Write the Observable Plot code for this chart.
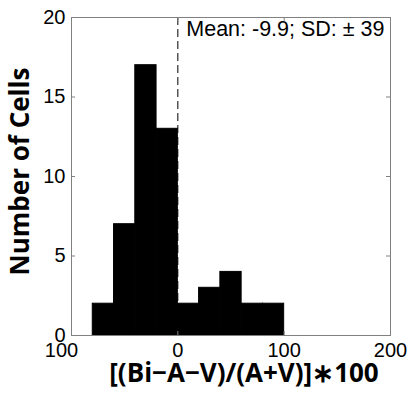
<!DOCTYPE html>
<html>
<head>
<meta charset="utf-8">
<script src="https://cdn.jsdelivr.net/npm/d3@7"></script>
<script src="https://cdn.jsdelivr.net/npm/@observablehq/plot@0.6"></script>
<style>
  html, body { margin: 0; padding: 0; background: #fff; }
  #chart svg { display: block; }
</style>
</head>
<body>
<div id="chart"></div>
<script>
// Histogram bins (left edges, right edges) and counts
const binStart = [-80, -60, -40, -20, 0, 20, 40, 60, 80];
const binEnd   = [-60, -40, -20, 0, 20, 40, 60, 80, 100];
const counts   = [2, 7, 17, 13, 2, 3, 4, 2, 2];

const xTicks = [-100, 0, 100, 200];
const xTickLabels = ["100", "0", "100", "200"];
const yTicks = [0, 5, 10, 15, 20];
const meanLine = [0];
const note = ["Mean: -9.9; SD: \u00B1 39"];
const xLabel = ["[(Bi\u2212A\u2212V)/(A+V)]\u2217100"];
const yLabel = ["Number of Cells"];

const bins = binStart.map((s, i) => ({x1: s, x2: binEnd[i], y: counts[i]}));
const xTickData = xTicks.map((t, i) => ({x: t, label: xTickLabels[i]}));

const W = 410, H = 394;
const mL = 71, mR = 20, mT = 17, mB = 59;
const fw = W - mL - mR, fh = H - mT - mB;
const tick = 4;
const gray = "#808080";
const tickFont = 20;

const chart = Plot.plot({
  width: W,
  height: H,
  marginLeft: mL,
  marginRight: mR,
  marginTop: mT,
  marginBottom: mB,
  style: {fontFamily: "'Liberation Sans', Arial, sans-serif", background: "#fff", color: "#000"},
  x: {domain: [-100, 200], axis: null},
  y: {domain: [0, 20], axis: null},
  marks: [
    Plot.rectY(bins, {x1: "x1", x2: "x2", y: "y", fill: "#000", stroke: "#000", strokeWidth: 1}),
    Plot.ruleX(meanLine, {x: d => d, stroke: "#000", strokeWidth: 1, strokeDasharray: "8,4"}),
    Plot.frame({stroke: gray, strokeWidth: 1}),
    // inward ticks (MATLAB style)
    Plot.tickY(yTicks, {y: d => d, stroke: gray, insetRight: fw - tick}),
    Plot.tickY(yTicks, {y: d => d, stroke: gray, insetLeft: fw - tick}),
    Plot.tickX(xTicks, {x: d => d, stroke: gray, insetTop: fh - tick}),
    Plot.tickX(xTicks, {x: d => d, stroke: gray, insetBottom: fh - tick}),
    // y tick labels
    Plot.text(yTicks, {y: d => d, text: d => String(d), frameAnchor: "left", textAnchor: "end",
      dx: -6, fontSize: tickFont, fill: "#000"}),
    // x tick labels (first one is offset as in the original, its minus sign is not shown)
    Plot.text(xTickData.slice(0, 1), {x: "x", text: "label", frameAnchor: "bottom", lineAnchor: "top",
      dx: -10, dy: 7, fontSize: tickFont, fill: "#000"}),
    Plot.text(xTickData.slice(1), {x: "x", text: "label", frameAnchor: "bottom", lineAnchor: "top",
      dy: 7, fontSize: tickFont, fill: "#000"}),
    Plot.text(note, {frameAnchor: "top-right", dx: -6, dy: 3, lineAnchor: "top",
      textAnchor: "end", fontSize: 21.5, fill: "#000"}),
    Plot.text(xLabel, {frameAnchor: "bottom", textAnchor: "middle", dx: 13, dy: 46, fontSize: 26,
      fontWeight: "bold", fontFamily: "'Open Sans', sans-serif", fill: "#000"}),
    Plot.text(yLabel, {frameAnchor: "left", textAnchor: "middle", rotate: -90, dx: -51, dy: -5, fontSize: 26,
      fontWeight: "bold", fontFamily: "'Open Sans', sans-serif", fill: "#000"})
  ]
});

document.getElementById("chart").appendChild(chart);
</script>
</body>
</html>
